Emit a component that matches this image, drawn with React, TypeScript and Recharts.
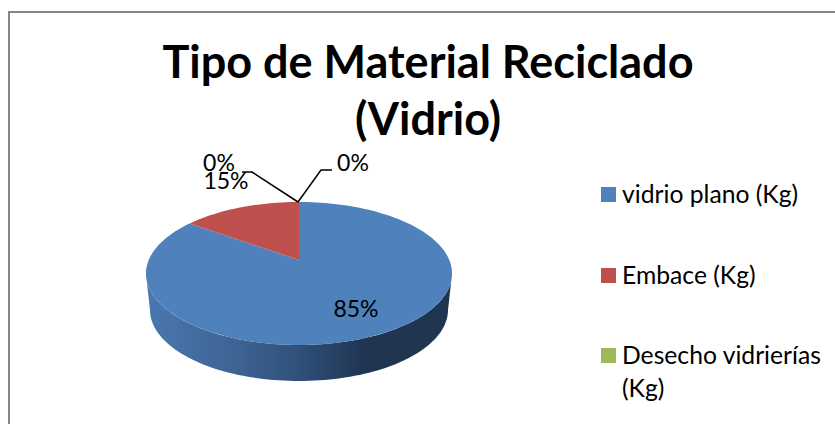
import { PieChart, Pie, Legend } from 'recharts'

const categories = ['vidrio plano (Kg)', 'Embace (Kg)', 'Desecho vidrierías (Kg)', 'Otros (Kg)']
const values = [85, 15, 0, 0]
const percentLabels = ['85%', '15%', '0%', '0%']
const colors = ['#4f81bd', '#c0504d', '#9bbb59', '#8064a2']

const chartData = categories.map((name, i) => ({ name, value: values[i], fill: colors[i] }))

// the original is a tilted 3D pie, so the library's angles get projected by hand
const CX = 299
const TILT = 0.1888
const topFace = (deg: number) => {
  const a = (deg * Math.PI) / 180
  const u = Math.cos(a)
  const v = Math.sin(a)
  const d = 1 + TILT * v
  return [CX + (150.3 * u) / d, (260 - 19.86 * v) / d]
}
const bottomEdge = (deg: number) => {
  const a = (deg * Math.PI) / 180
  return [CX + 149 * Math.cos(a), 310 - 71 * Math.sin(a)]
}
const toPath = (pts: number[][]) => pts.map((p, i) => `${i ? 'L' : 'M'}${p[0].toFixed(1)} ${p[1].toFixed(1)}`).join(' ')

const sweep = (from: number, to: number, f: (d: number) => number[]) => {
  const n = Math.max(2, Math.ceil(Math.abs(to - from) / 2))
  const pts = []
  for (let i = 0; i <= n; i++) pts.push(f(from + ((to - from) * i) / n))
  return pts
}

const TopSlice = (props: any) => {
  if (props.startAngle === props.endAngle) return null
  return <path d={`${toPath([[CX, 260], ...sweep(props.startAngle, props.endAngle, topFace)])} Z`} fill={props.fill} />
}

const WallSlice = (props: any) => {
  const from = Math.min(props.startAngle, -11)
  const to = Math.max(props.endAngle, -169)
  if (from <= to) return null
  const top = sweep(from, to, topFace)
  const bottom = sweep(Math.max(props.endAngle, -180), Math.min(props.startAngle, 0), bottomEdge)
  return (
    <g>
      <defs>
        <linearGradient id="wall" gradientUnits="userSpaceOnUse" x1="146" x2="452" y1="0" y2="0">
          <stop offset="0" stopColor="#4a78b0" />
          <stop offset="0.3" stopColor="#3d6393" />
          <stop offset="0.5" stopColor="#2f5079" />
          <stop offset="0.72" stopColor="#1f3550" />
          <stop offset="1" stopColor="#1f3550" />
        </linearGradient>
      </defs>
      <path d={`${toPath([...top, ...bottom])} Z`} fill="url(#wall)" />
    </g>
  )
}

const labelSpots = [
  { x: 356, y: 311 },
  { x: 226, y: 183 },
  { x: 219, y: 165, line: '298,202 252,172 242,172' },
  { x: 353, y: 165, line: '298,202 321,170 332,170' },
]

const PercentLabel = (props: any) => {
  const spot = labelSpots[props.index]
  return (
    <g>
      {spot.line && <polyline points={spot.line} fill="none" stroke="#000" strokeWidth={1.5} />}
      <text x={spot.x} y={spot.y} textAnchor="middle" dominantBaseline="middle" fontSize={23} fontFamily="Lato" fill="#000">
        {percentLabels[props.index]}
      </text>
    </g>
  )
}

// fourth entry falls below the cropped edge of the picture
const LegendList = () => (
  <div style={{ fontFamily: 'Lato', fontSize: 24.7, lineHeight: '33px', color: '#000' }}>
    {categories.slice(0, 3).map((name, i) => (
      <div key={name} style={{ position: 'absolute', left: 0, top: [0, 81, 161][i], display: 'flex', width: 225 }}>
        <span style={{ width: 15, height: 15, marginTop: 10, marginRight: 6, flex: 'none', background: colors[i] }} />
        <span>{name}</span>
      </div>
    ))}
  </div>
)

export default function App() {
  return (
    <div style={{ position: 'fixed', left: 0, top: 0, width: 835, height: 424, overflow: 'hidden', background: '#fff' }}>
      <div style={{ position: 'absolute', left: 8, top: 11, width: 840, height: 430, borderTop: '2px solid #868686', borderLeft: '2px solid #868686' }} />
      <div style={{ position: 'absolute', left: 78, width: 700, top: 33, textAlign: 'center', fontFamily: 'Lato', fontWeight: 700, fontSize: 45, lineHeight: '57px', color: '#000' }}>
        Tipo de Material Reciclado<br />(Vidrio)
      </div>
      <PieChart width={835} height={424} style={{ position: 'absolute', left: 0, top: 0 }}>
        <Pie data={chartData} dataKey="value" nameKey="name" cx={CX} cy={260} outerRadius={150} startAngle={90} endAngle={-270} stroke="none" shape={WallSlice} legendType="none" isAnimationActive={false} />
        <Pie data={chartData} dataKey="value" nameKey="name" cx={CX} cy={260} outerRadius={150} startAngle={90} endAngle={-270} stroke="none" shape={TopSlice} label={PercentLabel} labelLine={false} legendType="square" isAnimationActive={false} />
        <Legend content={<LegendList />} layout="vertical" wrapperStyle={{ position: 'absolute', left: 601, top: 177, width: 230, bottom: 'auto' }} />
      </PieChart>
    </div>
  )
}
